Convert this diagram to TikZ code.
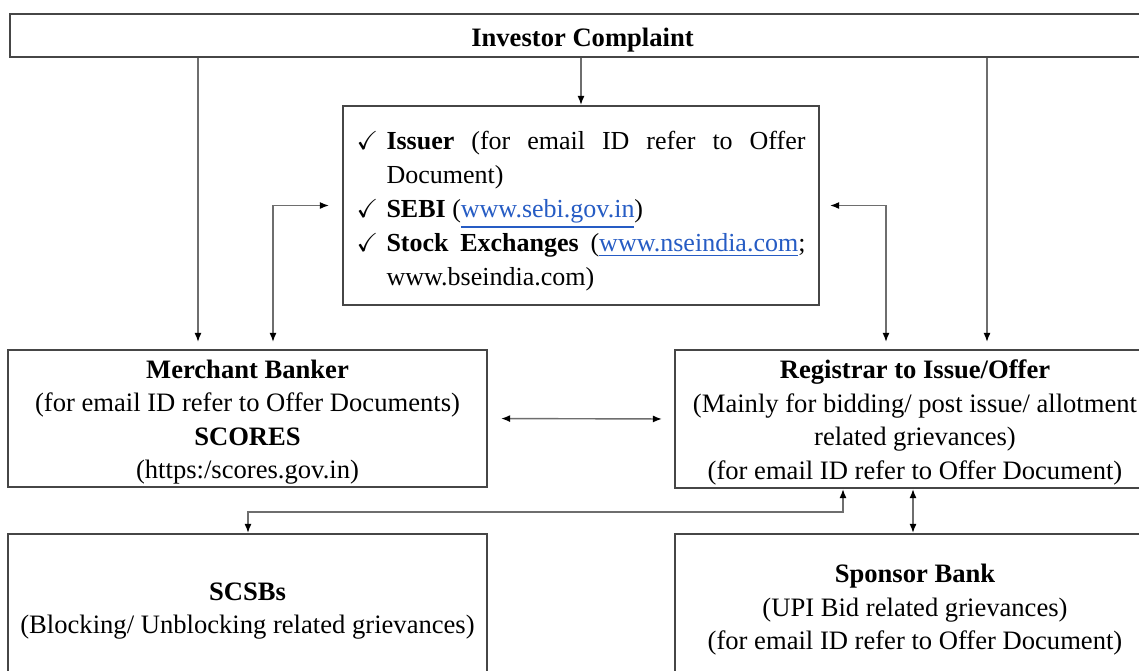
\documentclass[tikz,border=0pt]{standalone}
\usepackage{fontspec}
\usepackage{amssymb}
\setmainfont{Liberation Serif}
\usetikzlibrary{arrows.meta}
\definecolor{linkblue}{RGB}{38,92,196}
\definecolor{boxline}{RGB}{70,70,70}
\definecolor{wireline}{RGB}{110,110,110}
\newcommand{\weblink}[1]{\textcolor{linkblue}{\underline{#1}}}
\newcommand{\tick}{\makebox[15pt][l]{$\checkmark$}}
\begin{document}
\begin{tikzpicture}[x=0.5pt,y=-0.5pt,
  box/.style={draw=boxline,line width=1.1pt,inner sep=0pt,font=\fontsize{13.3}{16.75}\selectfont},
  wire/.style={draw=wireline,line width=0.7pt,-{Latex[length=4.5pt,width=3.5pt,color=black]}},
  both/.style={draw=wireline,line width=0.7pt,{Latex[length=4.5pt,width=3.5pt,color=black]}-{Latex[length=4.5pt,width=3.5pt,color=black]}}]
\useasboundingbox (0,0) rectangle (1139,670);
\clip (0,0) rectangle (1139,670);
\fill[white] (0,0) rectangle (1139,670);
\node[box,minimum width=572.5pt,minimum height=21.5pt] (investor) at (582.5,35.5) {\raisebox{-2.5pt}[\height][\depth]{\textbf{Investor Complaint}}};
\node[box,minimum width=238pt,minimum height=99.5pt,text width=224.5pt,align=justify,font=\fontsize{13}{17}\selectfont] (channels) at (581,205.5) {%
\hangindent=15pt\hangafter=1\noindent\rule{0pt}{15pt}\tick\textbf{Issuer} (for email ID refer to Offer\linebreak Document)\par
\hangindent=15pt\hangafter=1\noindent\tick\textbf{SEBI} (\weblink{www.sebi.gov.in})\par
\hangindent=15pt\hangafter=1\noindent\tick\textbf{Stock Exchanges} (\weblink{www.nseindia.com};\linebreak www.bseindia.com)\par};
\node[box,minimum width=239.5pt,minimum height=68.5pt,align=center] (merchant) at (247.5,418.5) {\rule{0pt}{13pt}\textbf{Merchant Banker}\\(for email ID refer to Offer Documents)\\\textbf{SCORES}\\(https:/scores.gov.in)};
\node[box,minimum width=240pt,minimum height=69pt,align=center] (registrar) at (915,419) {\rule{0pt}{13pt}\textbf{Registrar to Issue/Offer}\\(Mainly for bidding/ post issue/ allotment\\related grievances)\\(for email ID refer to Offer Document)};
\node[box,minimum width=239.5pt,minimum height=73pt,align=center] (scsb) at (247.5,607) {\rule{0pt}{13pt}\textbf{SCSBs}\\(Blocking/ Unblocking related grievances)};
\node[box,minimum width=240pt,minimum height=73pt,align=center] (sponsor) at (915,607) {\rule{0pt}{12pt}\textbf{Sponsor Bank}\\(UPI Bid related grievances)\\(for email ID refer to Offer Document)};
\coordinate (mbx) at (198,0);
\coordinate (mbl) at (273,0);
\coordinate (rgl) at (886,0);
\coordinate (rgx) at (987,0);
\coordinate (rgs) at (843,0);
\coordinate (spx) at (913,0);
\coordinate (bend) at (248,512);
\draw[wire,shorten >=3.5pt] (investor.south -| mbx) -- (merchant.north -| mbx);
\draw[wire] (investor.south -| channels.north) -- (channels.north);
\draw[wire,shorten >=3.5pt] (investor.south -| rgx) -- (registrar.north -| rgx);
\draw[both,shorten <=3.5pt,shorten >=6.5pt] (merchant.north -| mbl) |- (channels.west);
\draw[both,shorten <=3.5pt,shorten >=5pt] (registrar.north -| rgl) |- (channels.east);
\draw[both,shorten <=6.5pt,shorten >=6pt] (merchant.east) -- (registrar.west);
\draw[both] (registrar.south -| rgs) |- (bend) -- (scsb.north -| bend);
\draw[both] (registrar.south -| spx) -- (sponsor.north -| spx);
\end{tikzpicture}
\end{document}
